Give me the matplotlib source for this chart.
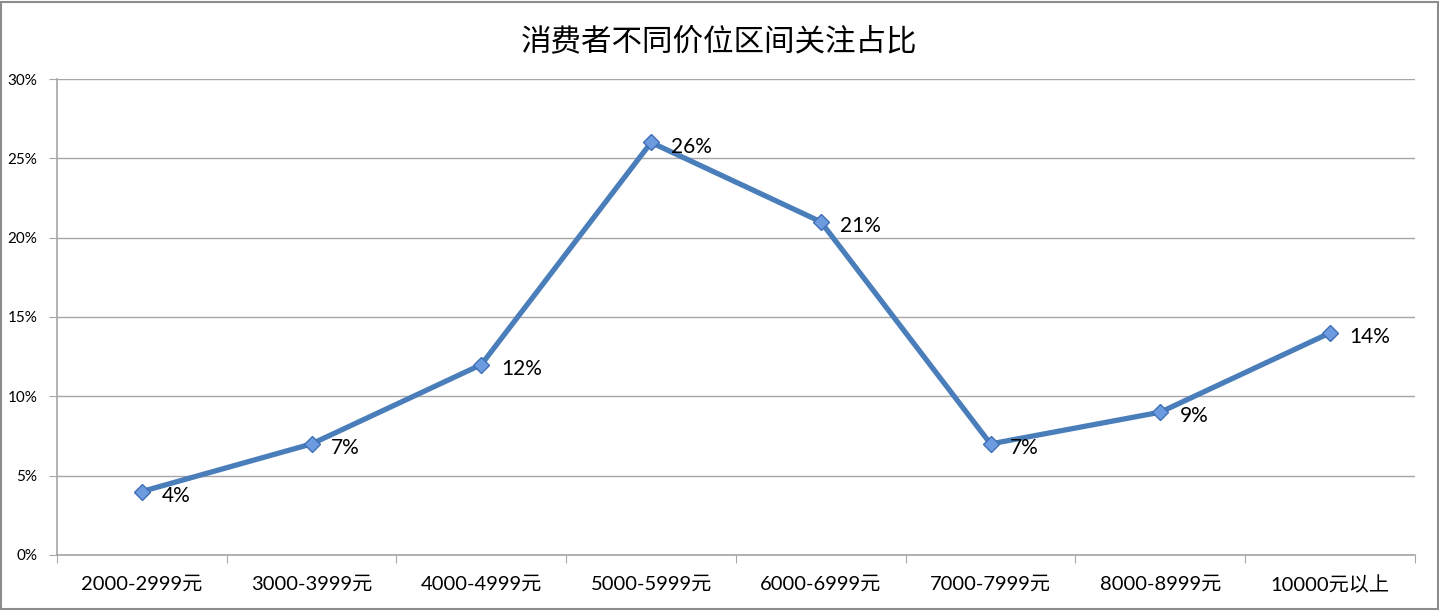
import matplotlib.pyplot as plt
from matplotlib.patches import Rectangle
from matplotlib.ticker import FixedLocator

plt.rcParams['font.family'] = ['Lato', 'Noto Sans CJK SC', 'DejaVu Sans']

categories = ["2000-2999元", "3000-3999元", "4000-4999元", "5000-5999元",
              "6000-6999元", "7000-7999元", "8000-8999元", "10000元以上"]
shares = [4, 7, 12, 26, 21, 7, 9, 14]
y_ticks = [0, 5, 10, 15, 20, 25, 30]
title = "消费者不同价位区间关注占比"

fig = plt.figure(figsize=(14.39, 6.11), dpi=100)
ax = fig.add_axes([0.0396, 0.0917, 0.9437, 0.779])

x = list(range(len(categories)))
ax.plot(x, shares, color="#4a7ebb", lw=3.8, marker="D", ms=8,
        markerfacecolor="#6d9be0", markeredgecolor="#3f6fb5", markeredgewidth=1, zorder=3)

for xi, v in zip(x, shares):
    ax.annotate("{}%".format(v), (xi, v), xytext=(14, -3), textcoords="offset points",
                ha="left", va="center", fontsize=15, color="black")

ax.set_xlim(-0.5, len(categories) - 0.5)
ax.set_ylim(0, 30)
ax.set_yticks(y_ticks)
ax.set_yticklabels(["{}%".format(t) for t in y_ticks], fontsize=11)
ax.yaxis.grid(True, color="#a6a6a6", lw=1)
ax.set_axisbelow(True)

ax.xaxis.set_major_locator(FixedLocator([i - 0.5 for i in range(len(categories) + 1)]))
ax.xaxis.set_minor_locator(FixedLocator(x))
ax.set_xticklabels([], minor=False)
ax.set_xticklabels(categories, minor=True, fontsize=14.5)
ax.tick_params(axis="x", which="major", direction="out", length=6, color="#a6a6a6")
ax.tick_params(axis="x", which="minor", length=0, pad=15)
ax.tick_params(axis="y", direction="out", length=6, color="#a6a6a6", pad=8)

for s in ["top", "right"]:
    ax.spines[s].set_visible(False)
for s in ["left", "bottom"]:
    ax.spines[s].set_color("#a6a6a6")
    ax.spines[s].set_linewidth(1.2)

fig.text(0.5, 0.932, title, ha="center", va="center", fontsize=22,
         family=["Noto Sans CJK SC", "DejaVu Sans"])

fig.patches.append(Rectangle((0.001, 0.003), 0.998, 0.994, transform=fig.transFigure,
                             fill=False, edgecolor="#8c8c8c", lw=1.5))

fig.savefig("out.png", dpi=100)
